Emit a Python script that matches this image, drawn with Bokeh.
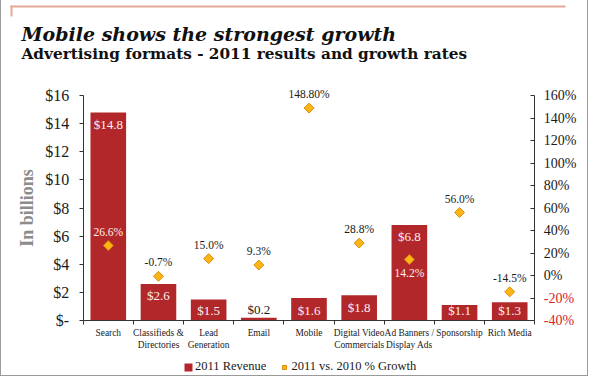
import math

from bokeh.core.properties import value
from bokeh.embed import file_html
from bokeh.models import (BoxAnnotation, ColumnDataSource, FixedTicker, Label,
                          LabelSet, Legend, LegendItem, LinearAxis, Range1d)
from bokeh.plotting import figure
from bokeh.resources import INLINE

# --- data -----------------------------------------------------------------
categories = ["Search", "Classifieds &\nDirectories", "Lead\nGeneration", "Email",
              "Mobile", "Digital Video\nCommercials", "Ad Banners /\nDisplay Ads",
              "Sponsorship", "Rich Media"]
revenue = [14.8, 2.6, 1.5, 0.2, 1.6, 1.8, 6.8, 1.1, 1.3]            # $ billions
growth = [26.6, -0.7, 15.0, 9.3, 148.8, 28.8, 14.2, 56.0, -14.5]    # % vs 2010
growth_text = ["26.6%", "-0.7%", "15.0%", "9.3%", "148.80%", "28.8%", "14.2%",
               "56.0%", "-14.5%"]

revenue_ticks = [0, 2, 4, 6, 8, 10, 12, 14, 16]
revenue_tick_labels = ["$-", "$2", "$4", "$6", "$8", "$10", "$12", "$14", "$16"]
growth_ticks = [-40, -20, 0, 20, 40, 60, 80, 100, 120, 140, 160]
growth_tick_labels = ["-40%", "-20%", "0%", "20%", "40%", "60%", "80%", "100%",
                      "120%", "140%", "160%"]

title = "Mobile shows the strongest growth"
subtitle = "Advertising formats - 2011 results and growth rates"

# --- styling --------------------------------------------------------------
FONT = "Liberation Serif"
HEAD_FONT = "DejaVu Serif"
BAR = "#B2282A"
GOLD = "#FDB515"
GOLD_EDGE = "#D98C0A"
INK = "#1a1a1a"
LINE = "#333333"
RED_TICK = "#d8232a"
ON_BAR = "#fdf0f0"

# --- layout (pixels) ------------------------------------------------------
W, H = 588, 376
PLOT_L, PLOT_R = 81.7, 533.3      # x of left / right value axes
PLOT_T, PLOT_B = 95.0, 320.0      # y of top / bottom of the value scale

n = len(categories)
xs = [i + 0.5 for i in range(n)]
bounds = list(range(n + 1))

# the frame covers the whole canvas; ranges are stretched so the value scales
# land on the axis positions above, and all axes sit at fixed locations
px_x = (PLOT_R - PLOT_L) / n
x_rng = Range1d(-PLOT_L / px_x, n + (W - PLOT_R) / px_x)
rev_lo, rev_hi = revenue_ticks[0], revenue_ticks[-1]
px_rev = (PLOT_B - PLOT_T) / (rev_hi - rev_lo)
y_rng = Range1d(rev_lo - (H - PLOT_B) / px_rev, rev_hi + PLOT_T / px_rev)
g_lo, g_hi = growth_ticks[0], growth_ticks[-1]
px_g = (PLOT_B - PLOT_T) / (g_hi - g_lo)
g_rng = Range1d(g_lo - (H - PLOT_B) / px_g, g_hi + PLOT_T / px_g)

p = figure(width=W, height=H, output_backend="svg", toolbar_location=None,
           x_range=x_rng, y_range=y_rng, min_border=0,
           min_border_left=0, min_border_right=0, min_border_top=0,
           min_border_bottom=0)
p.styles = {"border-left": "1px solid #9a9a9a", "border-right": "1px solid #9a9a9a",
            "border-bottom": "1px solid #9a9a9a"}
p.extra_y_ranges = {"pct": g_rng}
p.outline_line_color = None
p.xgrid.visible = False
p.ygrid.visible = False
p.background_fill_color = "white"
p.border_fill_color = "white"

# bars
src = ColumnDataSource(dict(x=xs, rev=revenue))
bars = p.vbar(x="x", top="rev", width=0.71, source=src, fill_color=BAR, line_color=None)

# growth diamonds
gsrc = ColumnDataSource(dict(x=xs, g=growth))
dia = p.scatter(x="x", y="g", y_range_name="pct", source=gsrc, marker="square",
                angle=math.pi / 4, size=7, fill_color=GOLD, line_color=GOLD_EDGE,
                line_width=1)

# revenue labels: white, a little below the bar top (kept inside short bars);
# black above bars too short to hold them
inside = [r >= 0.5 for r in revenue]
drop = 12 / px_rev            # label centre below the bar top
floor = 10 / px_rev           # lowest label centre above the baseline
rin = ColumnDataSource(dict(x=[x for x, k in zip(xs, inside) if k],
                            y=[max(r - drop, floor) for r, k in zip(revenue, inside) if k],
                            t=["$%.1f" % r for r, k in zip(revenue, inside) if k]))
rout = ColumnDataSource(dict(x=[x for x, k in zip(xs, inside) if not k],
                             y=[r for r, k in zip(revenue, inside) if not k],
                             t=["$%.1f" % r for r, k in zip(revenue, inside) if not k]))
p.add_layout(LabelSet(x="x", y="y", text="t", source=rin, text_align="center",
                      text_baseline="middle", text_color=ON_BAR,
                      text_font=value(FONT), text_font_size="13px"))
p.add_layout(LabelSet(x="x", y="y", text="t", source=rout, text_align="center",
                      text_baseline="alphabetic", y_offset=4, text_color=INK,
                      text_font=value(FONT), text_font_size="13px"))

# growth labels: above the diamond, except where the diamond sits inside a tall bar
label_below = [False, False, False, False, False, False, True, False, False]
label_color = [ON_BAR, INK, INK, INK, INK, INK, ON_BAR, INK, INK]
above = ColumnDataSource(dict(
    x=[x for x, b in zip(xs, label_below) if not b],
    y=[g for g, b in zip(growth, label_below) if not b],
    t=[t for t, b in zip(growth_text, label_below) if not b],
    c=[c for c, b in zip(label_color, label_below) if not b]))
below = ColumnDataSource(dict(
    x=[x for x, b in zip(xs, label_below) if b],
    y=[g for g, b in zip(growth, label_below) if b],
    t=[t for t, b in zip(growth_text, label_below) if b],
    c=[c for c, b in zip(label_color, label_below) if b]))
p.add_layout(LabelSet(x="x", y="y", text="t", source=above, y_range_name="pct",
                      text_align="center", text_baseline="middle", y_offset=14,
                      text_color="c", text_font=value(FONT), text_font_size="11.5px"))
p.add_layout(LabelSet(x="x", y="y", text="t", source=below, y_range_name="pct",
                      text_align="center", text_baseline="middle", y_offset=-13,
                      text_color="c", text_font=value(FONT), text_font_size="11.5px"))

# category axis along the bottom, ticks between the categories
xa = p.xaxis[0]
xa.fixed_location = rev_lo
xa.bounds = (0, n)
xa.ticker = FixedTicker(ticks=xs, minor_ticks=bounds)
xa.major_label_overrides = {x: c for x, c in zip(xs, categories)}
xa.major_tick_out = 0
xa.major_tick_in = 0
xa.minor_tick_out = 4
xa.minor_tick_in = 0
xa.axis_line_color = LINE
xa.minor_tick_line_color = LINE
xa.major_label_text_font = FONT
xa.major_label_text_font_size = "9.4px"
xa.major_label_text_color = INK
xa.major_label_standoff = 3

# revenue axis on the left
ya = p.yaxis[0]
ya.fixed_location = 0
ya.bounds = (rev_lo, rev_hi)
ya.ticker = FixedTicker(ticks=revenue_ticks)
ya.major_label_overrides = {t: l for t, l in zip(revenue_ticks, revenue_tick_labels)}
ya.minor_tick_line_color = None
ya.major_tick_out = 4
ya.major_tick_in = 0
ya.axis_line_color = LINE
ya.major_tick_line_color = LINE
ya.major_label_text_font = FONT
ya.major_label_text_font_size = "16px"
ya.major_label_text_color = INK
ya.major_label_standoff = 10
ya.axis_label = "In billions"
ya.axis_label_text_font = FONT
ya.axis_label_text_font_style = "bold"
ya.axis_label_text_font_size = "18px"
ya.axis_label_text_color = "#8c8c8c"
ya.axis_label_standoff = 6

# growth axis on the right: positive ticks in black, negative ones in red
pos_ticks = [t for t in growth_ticks if t >= 0]
neg_ticks = [t for t in growth_ticks if t < 0]
for ticks, colour, line in ((pos_ticks, INK, LINE), (neg_ticks, RED_TICK, None)):
    ax = LinearAxis(y_range_name="pct", ticker=FixedTicker(ticks=ticks),
                    fixed_location=n, bounds=(g_lo, g_hi))
    ax.major_label_overrides = {t: l for t, l in zip(growth_ticks, growth_tick_labels)
                                if t in ticks}
    ax.minor_tick_line_color = None
    ax.major_tick_out = 0
    ax.major_tick_in = 4
    ax.axis_line_color = line
    ax.major_tick_line_color = LINE
    ax.major_label_text_font = FONT
    ax.major_label_text_font_size = "14px"
    ax.major_label_text_color = colour
    ax.major_label_standoff = 9
    p.add_layout(ax, "right")

# headings
p.add_layout(Label(x=20, y=H - 33, x_units="screen", y_units="screen",
                   text=title, text_font=HEAD_FONT, text_font_style="bold italic",
                   text_font_size="19px", text_color="#111111",
                   text_baseline="alphabetic"))
p.add_layout(Label(x=20, y=H - 53, x_units="screen", y_units="screen",
                   text=subtitle, text_font=HEAD_FONT, text_font_style="bold",
                   text_font_size="15.3px", text_color="#111111",
                   text_baseline="alphabetic"))

# thin salmon rule along the top with a short drop at its left end
RULE = "#e3aa98"
p.add_layout(BoxAnnotation(left=9, right=564, top=H - 5, bottom=H - 7,
                           left_units="screen", right_units="screen",
                           top_units="screen", bottom_units="screen",
                           fill_color=RULE, fill_alpha=1, line_color=None))
p.add_layout(BoxAnnotation(left=9, right=11, top=H - 5, bottom=H - 16,
                           left_units="screen", right_units="screen",
                           top_units="screen", bottom_units="screen",
                           fill_color=RULE, fill_alpha=1, line_color=None))

# legend
legend = Legend(items=[LegendItem(label="2011 Revenue", renderers=[bars]),
                       LegendItem(label="2011 vs. 2010 % Growth", renderers=[dia])],
                orientation="horizontal", location=(182, 2),
                label_text_font=FONT, label_text_font_size="12.5px",
                label_text_color=INK, glyph_width=10, glyph_height=10,
                label_height=10, label_standoff=2, spacing=13,
                padding=0, margin=0, border_line_color=None,
                background_fill_alpha=0)
p.add_layout(legend)

open("out.html", "w").write(file_html(p, INLINE))
